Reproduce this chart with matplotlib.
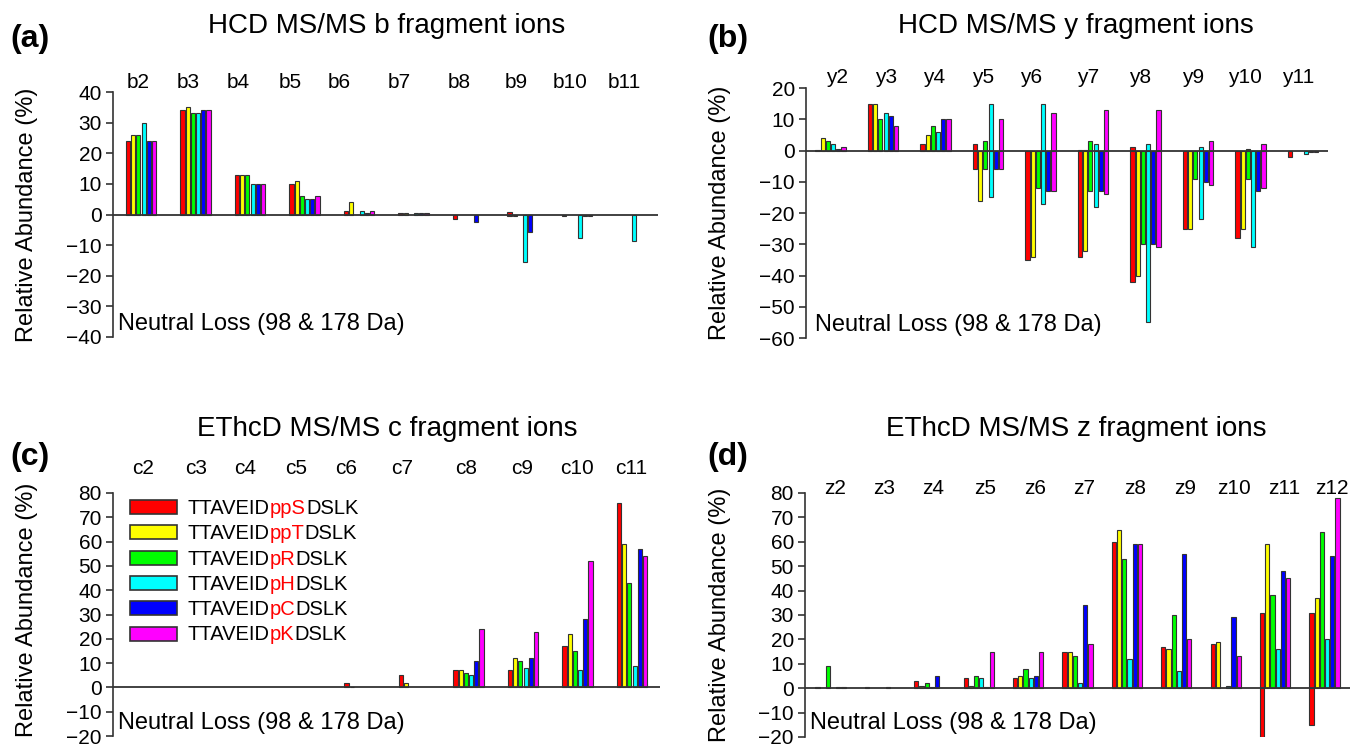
import numpy as np
import matplotlib
matplotlib.use("Agg")
import matplotlib.pyplot as plt
from matplotlib.patches import Rectangle
from matplotlib import transforms

plt.rcParams['font.family'] = ['Liberation Sans', 'DejaVu Sans']

W, H = 1359, 746

# peptide series (black / red / black parts of the legend label)
peptides = [("TTAVEID", "ppS", "DSLK"), ("TTAVEID", "ppT", "DSLK"),
            ("TTAVEID", "pR", "DSLK"), ("TTAVEID", "pH", "DSLK"),
            ("TTAVEID", "pC", "DSLK"), ("TTAVEID", "pK", "DSLK")]
colors = ['#ff0000', '#ffff00', '#00ff00', '#00ffff', '#0000ff', '#ff00ff']

# (a) HCD b ions
b_ions = ['b2', 'b3', 'b4', 'b5', 'b6', 'b7', 'b8', 'b9', 'b10', 'b11']
b_pos = [[24, 34, 13, 10, 1, 0.5, 0, 0.7, 0, 0],
         [26, 35, 13, 11, 4, 0.5, 0, 0, 0, 0],
         [26, 33, 13, 6, 0, 0, 0, 0, 0, 0],
         [30, 33, 10, 5, 1, 0.5, 0, 0, 0, 0],
         [24, 34, 10, 5, 0.5, 0.5, 0, 0, 0, 0],
         [24, 34, 10, 6, 1, 0.5, 0, 0, 0, 0]]
b_neg = [[0, 0, 0, 0, 0, 0, -1.4, -0.5, -0.5, 0],
         [0, 0, 0, 0, 0, 0, 0, -0.6, 0, 0],
         [0, 0, 0, 0, 0, 0, 0, 0, 0, 0],
         [0, 0, 0, 0, 0, 0, 0, -15.5, -7.7, -8.6],
         [0, 0, 0, 0, 0, 0, -2.6, -5.6, -0.5, 0],
         [0, 0, 0, 0, 0, 0, 0, 0, -0.5, 0]]

# (b) HCD y ions
y_ions = ['y2', 'y3', 'y4', 'y5', 'y6', 'y7', 'y8', 'y9', 'y10', 'y11']
y_pos = [[0.3, 15, 2, 2, 0, 0.3, 1, 0, 0, 0],
         [4, 15, 5, 0, 0, 0.3, 0, 0, 0, 0],
         [3, 10, 8, 3, 0, 3, 0, 0, 0.4, 0],
         [2, 12, 6, 15, 15, 2, 2, 1, 0, 0],
         [0.5, 11, 10, 0, 0, 0, 0, 0, 0, 0],
         [1, 8, 10, 10, 12, 13, 13, 3, 2, 0]]
y_neg = [[0, 0, 0, -6, -35, -34, -42, -25, -28, -2],
         [0, 0, 0, -16, -34, -32, -40, -25, -25, 0],
         [0, 0, 0, -6, -12, -13, -30, -9, -9, 0],
         [0, 0, 0, -15, -17, -18, -55, -22, -31, -1],
         [0, 0, 0, -6, -13, -13, -30, -10, -13, -0.5],
         [0, 0, 0, -6, -13, -14, -31, -11, -12, -0.5]]

# (c) EThcD c ions
c_ions = ['c2', 'c3', 'c4', 'c5', 'c6', 'c7', 'c8', 'c9', 'c10', 'c11']
c_pos = [[0, 0, 0, 0, 2, 5, 7, 7, 17, 76],
         [0, 0, 0, 0, 0.3, 2, 7, 12, 22, 59],
         [0, 0, 0, 0, 0, 0, 6, 11, 15, 43],
         [0, 0, 0, 0, 0, 0, 5, 8, 7, 9],
         [0, 0, 0, 0, 0, 0, 11, 12, 28, 57],
         [0, 0, 0, 0, 0, 0, 24, 23, 52, 54]]

# (d) EThcD z ions
z_ions = ['z2', 'z3', 'z4', 'z5', 'z6', 'z7', 'z8', 'z9', 'z10', 'z11', 'z12']
z_pos = [[0.3, 0.3, 3, 4, 4, 15, 60, 17, 18, 31, 31],
         [0, 0, 1, 1, 5, 15, 65, 16, 19, 59, 37],
         [9, 0, 2, 5, 8, 13, 53, 30, 0, 38, 64],
         [0, 0, 0.3, 4, 4, 2, 12, 7, 1, 16, 20],
         [0.3, 0.3, 5, 0.3, 5, 34, 59, 55, 29, 48, 54],
         [0.3, 0, 0, 15, 15, 18, 59, 20, 13, 45, 78]]
z_neg = [[0, 0, 0, 0, 0, 0, 0, 0, 0, -20, -15],
         [0] * 11, [0] * 11, [0] * 11, [0] * 11, [0] * 11]

EDGE = '#333333'

# where the ion names sit (pixels), they are not exactly over the bar groups
b_lab_x = [138.5, 188.5, 238.5, 290, 339, 399, 459, 516, 570, 624]
y_lab_x = [837, 886, 934, 983, 1031, 1088, 1140, 1193, 1245, 1298]
c_lab_x = [143, 196, 245, 296, 346, 402, 466, 522, 577, 631]
z_lab_x = [835, 884, 933, 985, 1035, 1084, 1135, 1185, 1234, 1284, 1332]


def fx(x):
    return x / W


def fy(y):
    return 1 - y / H


fig = plt.figure(figsize=(W / 100, H / 100), dpi=100)


def panel(box, first_px, step_px, ions, pos, neg, ylim, lab_x, lab_y):
    left, right, top, bottom = box
    ax = fig.add_axes([fx(left), fy(bottom), (right - left) / W, (bottom - top) / H])
    pitch = 5.2 / step_px
    x = np.arange(len(ions))
    for k in range(6):
        off = (k - 2.5) * pitch
        for vals in (pos[k], neg[k] if neg else None):
            if vals is None:
                continue
            v = np.array(vals, dtype=float)
            m = v != 0
            ax.bar(x[m] + off, v[m], width=pitch * 0.78, color=colors[k],
                   edgecolor=EDGE, linewidth=0.8, zorder=2)
    ax.axhline(0, color=EDGE, lw=1.3, zorder=3)
    ax.set_xlim((left - first_px) / step_px, (right - first_px) / step_px)
    ax.set_ylim(*ylim)
    ax.set_yticks(np.arange(ylim[0], ylim[1] + 1, 10))
    ax.set_xticks([])
    for s in ('top', 'right', 'bottom'):
        ax.spines[s].set_visible(False)
    ax.spines['left'].set_color(EDGE)
    ax.spines['left'].set_linewidth(1.2)
    ax.tick_params(axis='y', direction='out', length=5, width=1.2,
                   color=EDGE, labelsize=15, pad=3)
    ax.patch.set_alpha(0)
    for lab, xp in zip(ions, lab_x):
        fig.text(fx(xp), fy(lab_y), lab, ha='center', va='baseline', fontsize=15)
    return ax


panel((113, 658, 92, 337), 141, 54.5, b_ions, b_pos, b_neg, (-40, 40), b_lab_x, 88)
panel((806, 1328, 88, 338), 830.5, 52.5, y_ions, y_pos, y_neg, (-60, 20), y_lab_x, 83)
panel((113, 660, 493, 736), 141.5, 54.5, c_ions, c_pos, None, (-20, 80), c_lab_x, 474)
panel((805, 1350, 493, 737), 830.5, 49.4, z_ions, z_pos, z_neg, (-20, 80), z_lab_x, 494)

# titles, panel letters, axis labels
titles = ["HCD MS/MS b fragment ions", "HCD MS/MS y fragment ions",
          "EThcD MS/MS c fragment ions", "EThcD MS/MS z fragment ions"]
title_xy = [(387, 33), (1076, 33), (387, 436), (1076, 436)]
letters = ["(a)", "(b)", "(c)", "(d)"]
letter_xy = [(10, 39), (707, 39), (10, 457), (707, 457)]
ylab_xy = [(27, 215), (720, 213), (27, 610), (720, 615)]
nl_xy = [(118, 324), (815, 325), (118, 723), (810, 723)]

for i in range(4):
    fig.text(fx(title_xy[i][0]), fy(title_xy[i][1]), titles[i], ha='center',
             va='baseline', fontsize=20)
    fig.text(fx(letter_xy[i][0]), fy(letter_xy[i][1]), letters[i], ha='left',
             va='center', fontsize=23, fontweight='bold')
    fig.text(fx(ylab_xy[i][0]), fy(ylab_xy[i][1]), "Relative Abundance (%)",
             rotation=90, ha='center', va='center', fontsize=17)
    fig.text(fx(nl_xy[i][0]), fy(nl_xy[i][1]), "Neutral Loss (98 & 178 Da)",
             ha='left', va='center', fontsize=17)

# legend inside panel (c)
fig.canvas.draw()
rend = fig.canvas.get_renderer()
for k, parts in enumerate(peptides):
    yc = 507 + 25.3 * k
    fig.patches.append(Rectangle((fx(130), fy(yc + 7)), 47 / W, 14 / H,
                                 transform=fig.transFigure, facecolor=colors[k],
                                 edgecolor=EDGE, linewidth=1.2))
    xp = 188
    for part, col in zip(parts, ('black', '#ff0000', 'black')):
        t = fig.text(fx(xp), fy(yc + 7), part, color=col, ha='left',
                     va='baseline', fontsize=14.5)
        bb = t.get_window_extent(renderer=rend)
        xp = bb.x1

fig.savefig("out.png", dpi=100)
